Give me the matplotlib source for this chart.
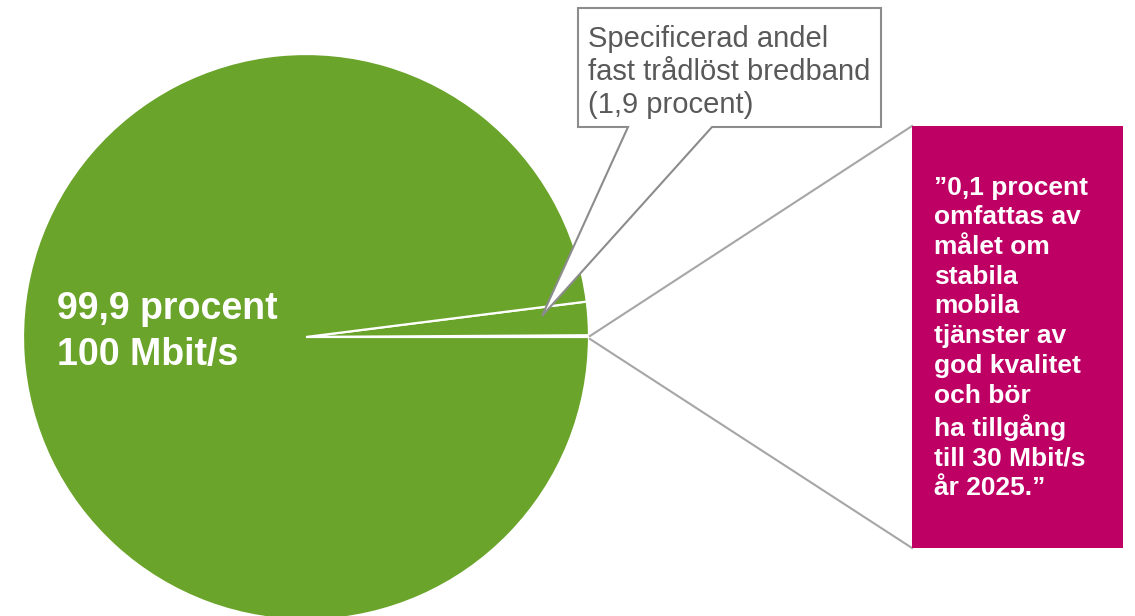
import matplotlib
matplotlib.use("Agg")
import matplotlib.pyplot as plt
from matplotlib.patches import Polygon, Rectangle

# Data
labels = ["0,1 procent (30 Mbit/s)", "Fast trådlöst bredband", "100 Mbit/s"]
values = [0.1, 1.9, 98.0]
slice_colors = ["#FFFFFF", "#6AA42A", "#6AA42A"]

main_label = "99,9 procent\n100 Mbit/s"
callout_text = "Specificerad andel\nfast trådlöst bredband\n(1,9 procent)"
quote_text = ("\u201d0,1 procent\nomfattas av\nmålet om\nstabila\nmobila\ntjänster av\n"
              "god kvalitet\noch bör\nha tillgång\ntill 30 Mbit/s\når 2025.\u201d")

plt.rcParams['font.family'] = ['Liberation Sans', 'DejaVu Sans']

W, H = 1135, 616
fig = plt.figure(figsize=(W / 100, H / 100), dpi=100)
ax = fig.add_axes([0, 0, 1, 1])

def Y(y):
    return H - y

cx, cy, r = 306, Y(337), 283
ax.pie(values, colors=slice_colors, startangle=0, counterclock=True,
       center=(cx, cy), radius=r,
       wedgeprops=dict(edgecolor="white", linewidth=1.6))

ax.set_xlim(0, W)
ax.set_ylim(0, H)
ax.set_aspect("equal")
ax.axis("off")

# Lines to magenta box
gray = "#A6A6A6"
ax.plot([590, 912], [Y(336), Y(126)], color=gray, lw=1.5, zorder=3)
ax.plot([590, 912], [Y(339), Y(548)], color=gray, lw=1.5, zorder=3)

# Magenta box
ax.add_patch(Rectangle((912, Y(548)), 1123 - 912, 548 - 126,
                       facecolor="#BE0064", edgecolor="none", zorder=4))
ax.text(934, Y(338), quote_text, color="white", fontsize=19, fontweight="bold",
        ha="left", va="center", linespacing=1.3, zorder=5)

# Callout box
pts = [(578, 8), (881, 8), (881, 127), (712, 127), (542, 316), (628, 127), (578, 127)]
ax.add_patch(Polygon([(x, Y(y)) for x, y in pts], closed=True,
                     facecolor="white", edgecolor="#8C8C8C", lw=1.5, zorder=6))
ax.text(588, Y(72), callout_text, color="#595959", fontsize=21,
        ha="left", va="center", linespacing=1.22, zorder=7)

# Main label
ax.text(57, Y(332), main_label, color="white", fontsize=27, fontweight="bold",
        ha="left", va="center", linespacing=1.35, zorder=5)

fig.savefig("out.png", dpi=100)
